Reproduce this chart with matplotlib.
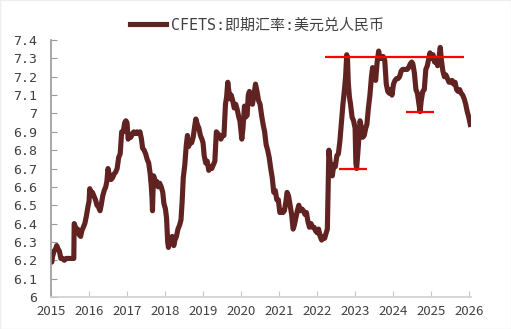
import matplotlib
matplotlib.use("Agg")
import matplotlib.pyplot as plt
from matplotlib.patches import Rectangle

plt.rcParams["font.family"] = ["Noto Sans CJK SC", "DejaVu Sans"]

# decimal year, CFETS USD/CNY spot
dates = [
    2015.00, 2015.02, 2015.04, 2015.08, 2015.12, 2015.15, 2015.19, 2015.22, 2015.26, 2015.30,
    2015.35, 2015.40, 2015.45, 2015.50, 2015.55, 2015.60, 2015.61, 2015.63, 2015.66, 2015.70,
    2015.74, 2015.78, 2015.81, 2015.85, 2015.89, 2015.93, 2015.97, 2016.00, 2016.02, 2016.05,
    2016.09, 2016.13, 2016.17, 2016.21, 2016.25, 2016.29, 2016.32, 2016.36, 2016.40, 2016.44,
    2016.47, 2016.50, 2016.54, 2016.58, 2016.62, 2016.66, 2016.70, 2016.74, 2016.78, 2016.82,
    2016.86, 2016.90, 2016.94, 2016.97, 2017.00, 2017.03, 2017.06, 2017.10, 2017.14, 2017.18,
    2017.22, 2017.26, 2017.30, 2017.34, 2017.38, 2017.41, 2017.45, 2017.49, 2017.53, 2017.57,
    2017.61, 2017.64, 2017.66, 2017.67, 2017.68, 2017.70, 2017.74, 2017.78, 2017.82, 2017.86,
    2017.90, 2017.94, 2017.97, 2018.01, 2018.04, 2018.07, 2018.09, 2018.12, 2018.15, 2018.19,
    2018.23, 2018.26, 2018.30, 2018.34, 2018.38, 2018.42, 2018.45, 2018.48, 2018.52, 2018.56,
    2018.59, 2018.62, 2018.66, 2018.70, 2018.74, 2018.78, 2018.81, 2018.85, 2018.89, 2018.93,
    2018.97, 2019.00, 2019.03, 2019.07, 2019.11, 2019.15, 2019.19, 2019.23, 2019.27, 2019.31,
    2019.35, 2019.39, 2019.43, 2019.47, 2019.51, 2019.55, 2019.59, 2019.62, 2019.65, 2019.68,
    2019.71, 2019.74, 2019.78, 2019.82, 2019.86, 2019.90, 2019.94, 2019.97, 2020.02, 2020.05,
    2020.09, 2020.12, 2020.16, 2020.19, 2020.22, 2020.26, 2020.30, 2020.34, 2020.38, 2020.42,
    2020.46, 2020.50, 2020.54, 2020.58, 2020.62, 2020.66, 2020.70, 2020.74, 2020.78, 2020.82,
    2020.86, 2020.90, 2020.94, 2020.98, 2021.02, 2021.06, 2021.10, 2021.14, 2021.18, 2021.21,
    2021.25, 2021.29, 2021.33, 2021.37, 2021.40, 2021.44, 2021.48, 2021.52, 2021.56, 2021.60,
    2021.64, 2021.68, 2021.72, 2021.76, 2021.80, 2021.84, 2021.88, 2021.92, 2021.96, 2022.00,
    2022.04, 2022.08, 2022.12, 2022.16, 2022.20, 2022.24, 2022.27, 2022.29, 2022.31, 2022.34,
    2022.37, 2022.40, 2022.44, 2022.48, 2022.52, 2022.56, 2022.60, 2022.64, 2022.68, 2022.72,
    2022.75, 2022.78, 2022.80, 2022.82, 2022.85, 2022.88, 2022.92, 2022.96, 2023.00, 2023.02,
    2023.04, 2023.07, 2023.10, 2023.13, 2023.16, 2023.20, 2023.24, 2023.28, 2023.31, 2023.35,
    2023.39, 2023.43, 2023.46, 2023.50, 2023.54, 2023.58, 2023.62, 2023.65, 2023.68, 2023.71,
    2023.74, 2023.78, 2023.82, 2023.86, 2023.90, 2023.94, 2023.97, 2024.01, 2024.05, 2024.09,
    2024.13, 2024.17, 2024.21, 2024.25, 2024.29, 2024.33, 2024.37, 2024.41, 2024.45, 2024.49,
    2024.52, 2024.56, 2024.60, 2024.64, 2024.68, 2024.71, 2024.74, 2024.78, 2024.82, 2024.86,
    2024.90, 2024.94, 2024.97, 2025.01, 2025.05, 2025.09, 2025.13, 2025.17, 2025.21, 2025.24,
    2025.27, 2025.31, 2025.35, 2025.39, 2025.43, 2025.47, 2025.51, 2025.55, 2025.59, 2025.63,
    2025.67, 2025.71, 2025.75, 2025.79, 2025.83, 2025.87, 2025.91, 2025.95, 2025.99, 2026.03,
]
usdcny = [
    6.21, 6.19, 6.22, 6.25, 6.26, 6.28, 6.26, 6.25, 6.21, 6.21,
    6.20, 6.21, 6.21, 6.21, 6.21, 6.21, 6.40, 6.39, 6.36, 6.37,
    6.34, 6.33, 6.36, 6.38, 6.40, 6.44, 6.49, 6.52, 6.59, 6.57,
    6.57, 6.55, 6.53, 6.50, 6.49, 6.47, 6.50, 6.55, 6.58, 6.60,
    6.63, 6.70, 6.66, 6.64, 6.65, 6.67, 6.68, 6.70, 6.76, 6.78,
    6.90, 6.90, 6.95, 6.96, 6.95, 6.86, 6.88, 6.87, 6.89, 6.90,
    6.89, 6.90, 6.89, 6.90, 6.86, 6.81, 6.80, 6.78, 6.75, 6.73,
    6.67, 6.60, 6.53, 6.47, 6.55, 6.66, 6.63, 6.63, 6.60, 6.62,
    6.60, 6.57, 6.51, 6.48, 6.43, 6.30, 6.27, 6.32, 6.31, 6.33,
    6.28, 6.31, 6.33, 6.37, 6.39, 6.42, 6.52, 6.65, 6.72, 6.83,
    6.88, 6.82, 6.85, 6.84, 6.87, 6.93, 6.97, 6.94, 6.92, 6.88,
    6.86, 6.84, 6.77, 6.73, 6.74, 6.69, 6.71, 6.70, 6.72, 6.74,
    6.90, 6.89, 6.88, 6.86, 6.88, 6.88, 7.05, 7.09, 7.17, 7.12,
    7.08, 7.10, 7.07, 7.03, 7.05, 7.02, 6.98, 6.96, 6.86, 6.92,
    7.04, 6.98, 6.99, 7.10, 7.12, 7.08, 7.05, 7.10, 7.16, 7.12,
    7.07, 7.05, 6.99, 6.94, 6.90, 6.83, 6.80, 6.76, 6.70, 6.65,
    6.57, 6.58, 6.53, 6.53, 6.46, 6.47, 6.46, 6.47, 6.52, 6.57,
    6.55, 6.50, 6.45, 6.37, 6.39, 6.43, 6.47, 6.50, 6.47, 6.48,
    6.47, 6.45, 6.46, 6.41, 6.38, 6.40, 6.38, 6.38, 6.36, 6.35,
    6.37, 6.33, 6.31, 6.33, 6.32, 6.35, 6.37, 6.60, 6.80, 6.74,
    6.69, 6.66, 6.72, 6.71, 6.77, 6.78, 6.85, 6.95, 7.05, 7.13,
    7.20, 7.32, 7.30, 7.17, 7.09, 7.05, 6.98, 6.96, 6.92, 6.73,
    6.70, 6.78, 6.87, 6.96, 6.93, 6.87, 6.88, 6.92, 6.94, 7.03,
    7.10, 7.20, 7.25, 7.22, 7.18, 7.28, 7.34, 7.30, 7.31, 7.30,
    7.31, 7.29, 7.16, 7.12, 7.11, 7.13, 7.10, 7.16, 7.18, 7.19,
    7.19, 7.20, 7.23, 7.24, 7.24, 7.24, 7.24, 7.25, 7.27, 7.28,
    7.27, 7.22, 7.13, 7.11, 7.05, 7.01, 7.07, 7.12, 7.13, 7.24,
    7.26, 7.30, 7.33, 7.30, 7.32, 7.28, 7.29, 7.26, 7.31, 7.36,
    7.29, 7.23, 7.20, 7.21, 7.19, 7.17, 7.17, 7.18, 7.16, 7.17,
    7.13, 7.12, 7.13, 7.11, 7.10, 7.08, 7.05, 7.01, 6.98, 6.94,
]

# red reference levels: (level, start, end)
ref_levels = [7.31, 6.70, 7.01]
ref_start = [2022.20, 2022.58, 2024.35]
ref_end = [2025.86, 2023.31, 2025.07]

years = list(range(2015, 2027))
yticks = [6.0, 6.1, 6.2, 6.3, 6.4, 6.5, 6.6, 6.7, 6.8, 6.9, 7.0, 7.1, 7.2, 7.3, 7.4]
ylabels = ["6", "6.1", "6.2", "6.3", "6.4", "6.5", "6.6", "6.7", "6.8", "6.9",
           "7", "7.1", "7.2", "7.3", "7.4"]

fig = plt.figure(figsize=(5.11, 3.29), dpi=100)
ax = fig.add_axes([0.0998, 0.0973, 0.822, 0.781])

line_color = "#612322"
ax.plot(dates, usdcny, color=line_color, lw=3.7, solid_joinstyle="round",
        label="CFETS:即期汇率:美元兑人民币")
ax.hlines(ref_levels, ref_start, ref_end, colors="#ff0000", lw=1.6)

ax.set_xlim(2015, 2026.05)
ax.set_ylim(6, 7.4)
ax.set_xticks(years)
ax.set_xticklabels([str(y) for y in years])
ax.set_yticks(yticks)
ax.set_yticklabels(ylabels, family=["DejaVu Sans Mono"])

for s in ["top", "right"]:
    ax.spines[s].set_visible(False)
ax.spines["left"].set_color("#9a9a9a")
ax.spines["left"].set_linewidth(1.2)
ax.spines["bottom"].set_color("#d0d0d0")
ax.spines["bottom"].set_linewidth(1.2)
ax.tick_params(axis="y", direction="in", length=4, color="#9a9a9a", labelcolor="#404040",
               labelsize=9.5, pad=10)
ax.tick_params(axis="x", direction="in", length=4, color="#c8c8c8", labelcolor="#404040",
               labelsize=9.5, pad=6)

leg = ax.legend(loc="lower center", bbox_to_anchor=(0.49, 1.0), frameon=False,
                prop={"family": ["DejaVu Sans Mono", "Noto Sans CJK SC"], "size": 10.8},
                handlelength=2.4, handletextpad=0.3, labelcolor="#404040", borderaxespad=0.1)

fig.patches.append(Rectangle((0, 0), 1, 1, transform=fig.transFigure, fill=False,
                             edgecolor="#eeeeee", lw=1))

fig.savefig("out.png", dpi=100)
